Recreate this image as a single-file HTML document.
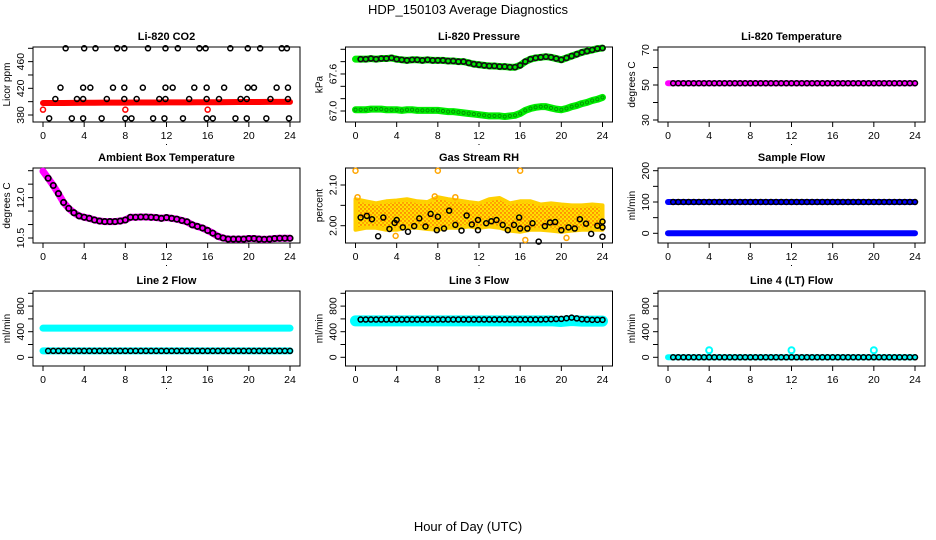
<!DOCTYPE html>
<html><head><meta charset="utf-8"><style>
body{margin:0;background:#fff;}
svg{display:block;font-family:"Liberation Sans",sans-serif;}
</style></head><body>
<svg id="chart" width="936" height="540" viewBox="0 0 936 540" xmlns="http://www.w3.org/2000/svg">
<defs>
<pattern id="rhpat" width="4" height="4" patternUnits="userSpaceOnUse">
<rect width="4" height="4" fill="#ffe000"/><circle cx="1" cy="1" r="0.7" fill="#ff2a00"/><circle cx="3" cy="3" r="0.7" fill="#ff5000"/>
</pattern>
</defs>
<text x="468" y="14" text-anchor="middle" font-size="13">HDP_150103  Average Diagnostics</text>
<text x="468" y="531" text-anchor="middle" font-size="13">Hour of Day (UTC)</text>
</svg>
<script>
// ---------- data ----------
const HALF = [0,0.5,1,1.5,2,2.5,3,3.5,4,4.5,5,5.5,6,6.5,7,7.5,8,8.5,9,9.5,10,10.5,11,11.5,12,12.5,13,13.5,14,14.5,15,15.5,16,16.5,17,17.5,18,18.5,19,19.5,20,20.5,21,21.5,22,22.5,23,23.5,24];
const HOURLY = [0,1,2,3,4,5,6,7,8,9,10,11,12,13,14,15,16,17,18,19,20,21,22,23,24];
const XTICKS = [0,4,8,12,16,20,24];

// CO2
const co2Red = [398,398,398,398.2,398.3,398.4,398.5,398.6,398.6,398.7,398.8,398.8,398.9,399,399,399.1,399.2,399.2,399.3,399.4,399.4,399.5,399.6,399.6,399.7];
const co2RedOutHours = [0,8,16];
const co2RedOutVals = [388,388,388];
const co2H480 = [2.2,4.0,5.1,7.2,7.9,10.2,11.9,13.1,15.2,15.8,18.2,19.9,21.1,23.2,23.7];
const co2H421 = [1.7,3.9,4.6,6.8,7.9,9.7,11.9,12.6,14.7,15.9,17.6,19.9,20.5,22.7,23.8];
const co2H404 = [1.2,3.3,3.9,6.2,7.9,9.1,11.3,11.9,14.2,15.9,17.1,19.2,19.8,22.1,23.8];
const co2H375 = [0.6,2.8,3.9,5.7,8.0,8.6,10.7,11.8,13.6,15.9,16.5,18.7,19.8,21.7,23.9];

// Pressure
const presTop = [67.84,67.84,67.84,67.85,67.84,67.85,67.85,67.86,67.84,67.83,67.82,67.83,67.83,67.82,67.83,67.82,67.82,67.82,67.81,67.81,67.80,67.80,67.78,67.76,67.75,67.74,67.73,67.73,67.72,67.72,67.71,67.71,67.74,67.80,67.84,67.86,67.87,67.88,67.87,67.85,67.83,67.86,67.89,67.92,67.95,67.97,67.99,68.01,68.02];
const presLow = [67.02,67.02,67.02,67.03,67.03,67.03,67.02,67.02,67.02,67.01,67.02,67.02,67.01,67.01,67.01,67.01,67.01,67.00,66.99,66.99,66.98,66.97,66.96,66.95,66.94,66.93,66.92,66.92,66.92,66.91,66.92,66.93,66.96,67.01,67.04,67.06,67.07,67.07,67.05,67.03,67.02,67.04,67.07,67.09,67.12,67.14,67.17,67.19,67.22];

// Li-820 temperature
const tempLi = [51,51,51,51,51,51,51,51,51,51,51,51,51,51,51,51,51,51,51,51,51,51,51,51,51];

// Ambient
const ambient = [12.98,12.72,12.45,12.15,11.82,11.6,11.44,11.32,11.27,11.23,11.17,11.13,11.11,11.11,11.11,11.13,11.17,11.27,11.27,11.28,11.28,11.27,11.26,11.23,11.26,11.23,11.2,11.15,11.1,10.99,10.93,10.87,10.78,10.68,10.56,10.5,10.46,10.46,10.46,10.46,10.48,10.48,10.46,10.45,10.46,10.48,10.49,10.49,10.49];

// RH
const rhUpper = [2.065,2.06,2.055,2.06,2.062,2.065,2.06,2.058,2.07,2.065,2.062,2.058,2.055,2.065,2.068,2.055,2.06,2.06,2.052,2.055,2.052,2.05,2.05,2.052,2.05];
const rhLower = [1.99,1.995,1.995,1.99,1.99,1.995,1.995,1.992,1.99,1.995,1.995,1.998,1.995,1.998,1.995,1.988,1.985,1.99,1.99,1.988,1.985,1.988,1.99,1.99,1.99];
const rhOutHours = [0,8,16,0.2,7.7,9.7,16.5,20.5,3.9];
const rhOutVals = [2.135,2.135,2.135,2.07,2.072,2.07,1.965,1.97,1.975];
const rhBlackHours = [0.5,1.1,1.6,2.2,2.7,3.3,3.8,4.0,4.6,5.1,5.7,6.2,6.8,7.3,7.9,8.0,8.6,9.1,9.7,10.3,10.8,11.3,11.9,11.9,12.7,13.2,13.7,14.3,14.8,15.4,15.9,16.0,16.7,17.2,17.8,18.4,18.9,19.4,20.0,20.7,21.3,21.8,22.4,22.9,23.5,24,24,24];
const rhBlackVals = [2.02,2.024,2.016,1.974,2.02,1.992,2.007,2.014,1.996,1.985,1.999,2.018,1.998,2.029,1.989,2.022,1.993,2.037,2.002,1.988,2.025,2.003,2.014,1.989,2.006,2.011,2.014,2.002,1.989,2.002,2.02,1.993,1.993,2.006,1.961,1.999,2.008,2.009,1.989,1.996,1.993,2.016,2.005,1.98,2.0,1.973,2.01,1.996];

// Flows
const sampleHigh = [100,100,100,100,100,100,100,100,100,100,100,100,100,100,100,100,100,100,100,100,100,100,100,100,100];
const sampleZero = [0,0,0,0,0,0,0,0,0,0,0,0,0,0,0,0,0,0,0,0,0,0,0,0,0];
const line2High = [455,455,455,455,455,455,455,455,455,455,455,455,455,455,455,455,455,455,455,455,455,455,455,455,455];
const line2Low = [100,100,100,100,100,100,100,100,100,100,100,100,100,100,100,100,100,100,100,100,100,100,100,100,100];
const line3Cyan = [570,570,570,570,570,570,570,570,570,570,570,570,570,570,570,570,570,570,570,570,560,575,565,565,565];
const line3Black = [590,590,590,590,590,590,590,590,590,590,590,590,590,590,590,590,590,590,590,595,600,620,595,585,585];
const line4Vals = [0,0,0,0,0,0,0,0,0,0,0,0,0,0,0,0,0,0,0,0,0,0,0,0,0];
const line4SpikeHours = [4,12,20];
const line4SpikeVals = [110,110,110];

// ---------- drawing ----------
const svg = document.getElementById('chart');
const NS = 'http://www.w3.org/2000/svg';
function mk(tag, attrs, parent){const e=document.createElementNS(NS,tag);for(const k in attrs)e.setAttribute(k,attrs[k]);(parent||svg).appendChild(e);return e;}

const COLS = [33, 345.5, 658];
const ROWS = [47, 168, 291];
const W = 267, H = 75;

function makePanel(col,row,title,ylab,yref,yticks,ylabels,name){
  const x0=COLS[col], y0=ROWS[row];
  const g = mk('g',{});
  
  
  const xs = h => x0+10+h*(W-20)/24;
  const ys = v => yref[1]+(v-yref[0])*(yref[3]-yref[1])/(yref[2]-yref[0]);
  const t = mk('text',{x:x0+W/2,y:y0-7,'text-anchor':'middle','font-size':11,'font-weight':'bold'},g);
  t.textContent = title;
  
  
  const yl = mk('text',{x:0,y:0,'text-anchor':'middle','font-size':10,transform:`translate(${x0-23},${y0+H/2}) rotate(-90)`},g);
  yl.textContent = ylab;
  
  
  const xa = mk('g',{},g);
  
  
  mk('line',{x1:xs(0),x2:xs(24),y1:y0+H,y2:y0+H,stroke:'#000'},xa);
  XTICKS.forEach(h=>{
    mk('line',{x1:xs(h),x2:xs(h),y1:y0+H,y2:y0+H+5,stroke:'#000'},xa);
    const tl = mk('text',{x:xs(h),y:y0+H+17,'text-anchor':'middle','font-size':10.5},xa);
    tl.textContent = h;
  });
  mk('rect',{x:x0+W/2-0.5,y:y0+H+22,width:1,height:1,fill:'#000'},xa);
  const ya = mk('g',{},g);
  
  
  mk('line',{x1:x0,x2:x0,y1:ys(yticks[0]),y2:ys(yticks[yticks.length-1]),stroke:'#000'},ya);
  yticks.forEach(v=>{
    mk('line',{x1:x0-5,x2:x0,y1:ys(v),y2:ys(v),stroke:'#000'},ya);
  });
  ylabels.forEach(s=>{
    const v = parseFloat(s);
    const tl = mk('text',{x:0,y:0,'text-anchor':'middle','font-size':10.5,transform:`translate(${x0-9},${ys(v)}) rotate(-90)`},ya);
    tl.textContent = s;
  });
  const box = mk('rect',{x:x0,y:y0,width:W,height:H,fill:'none',stroke:'#000'},g);
  
  
  const marks = mk('g',{},g);
  
  
  return {xs,ys,marks,g};
}
function band(p,hours,vals,color,width,name){
  const pts = hours.map((h,i)=>p.xs(h)+','+p.ys(vals[i])).join(' ');
  const l = mk('polyline',{points:pts,fill:'none',stroke:color,'stroke-width':width,'stroke-linejoin':'round','stroke-linecap':'round'},p.marks);
  
  
}
function circles(p,hours,vals,color,name,r,sw){
  r=r||2.5; sw=sw||1.5;
  const grp = mk('g',{},p.marks);
  
  
  hours.forEach((h,i)=>{
    mk('circle',{cx:p.xs(h),cy:p.ys(vals[i]),r:r,fill:'none',stroke:color,'stroke-width':sw},grp);
  });
}
function halfFromHourly(arr){return HALF.map(h=>{const a=Math.floor(h),b=Math.min(24,Math.ceil(h));return (arr[a]+arr[b])/2;});}

let p = makePanel(0,0,'Li-820 CO2','Licor ppm',[380,115,480,48.3],[380,400,420,440,460,480],['380','420','460'],'co2');
band(p,HOURLY,co2Red,'#ff0000',6,'co2-red-band');
circles(p,co2RedOutHours,co2RedOutVals,'#ff0000','co2-red-outliers');
circles(p,co2H480,co2H480.map(()=>480),'#000','co2-black-480');
circles(p,co2H421,co2H421.map(()=>421),'#000','co2-black-421');
circles(p,co2H404,co2H404.map(()=>404),'#000','co2-black-404');
circles(p,co2H375,co2H375.map(()=>375),'#000','co2-black-375');

p = makePanel(1,0,'Li-820 Pressure','kPa',[67.0,111,68.0,49.3],[67.0,67.2,67.4,67.6,67.8,68.0],['67.0','67.6'],'pressure');
band(p,HALF,presTop,'#00ee00',7,'pressure-green-upper');
band(p,HALF,presLow,'#00ee00',7,'pressure-green-lower');
circles(p,HALF.slice(1),presTop.slice(1),'#111','pressure-black-points',2.5,1.7);
circles(p,HALF,presLow,'#009900','pressure-lower-points',1.6,1);

p = makePanel(2,0,'Li-820 Temperature','degrees C',[30,120,70,50],[30,40,50,60,70],['30','50','70'],'li820-temp');
band(p,HOURLY,tempLi,'#ff00ff',6,'li820-temp-magenta');
circles(p,HALF.slice(1),halfFromHourly(tempLi).slice(1),'#000','li820-temp-black');

p = makePanel(0,1,'Ambient Box Temperature','degrees C',[10.5,238,13.0,170.7],[10.5,11,11.5,12,12.5,13],['10.5','12.0'],'ambient');
band(p,HALF,ambient,'#ff00ff',7,'ambient-magenta');
circles(p,HALF.slice(1),ambient.slice(1),'#000','ambient-black',2.7,1.7);

p = makePanel(1,1,'Gas Stream RH','percent',[2.0,225.7,2.1,185],[2.0,2.05,2.1],['2.00','2.10'],'rh');
{
  const up = HOURLY.map((h,i)=>p.xs(h)+','+p.ys(rhUpper[i]));
  const lo = HOURLY.map((h,i)=>p.xs(h)+','+p.ys(rhLower[i])).reverse();
  const poly = mk('polygon',{points:up.concat(lo).join(' '),fill:'url(#rhpat)',stroke:'#ffd000','stroke-width':4,'stroke-linejoin':'round'},p.marks);
  
  
}
circles(p,rhOutHours,rhOutVals,'#ffa500','rh-orange-outliers',2.5,1.5);
circles(p,rhBlackHours,rhBlackVals,'#000','rh-black-points',2.5,1.5);

p = makePanel(2,1,'Sample Flow','ml/min',[0,233.3,200,170.7],[0,50,100,150,200],['0','100','200'],'sample-flow');
band(p,HOURLY,sampleHigh,'#0000ff',6,'sample-flow-blue-high');
band(p,HOURLY,sampleZero,'#0000ff',6,'sample-flow-blue-zero');
circles(p,HALF.slice(1),halfFromHourly(sampleHigh).slice(1),'#000','sample-flow-black');

p = makePanel(0,2,'Line 2 Flow','ml/min',[0,357.3,1000,293.3],[0,200,400,600,800,1000],['0','400','800'],'line2-flow');
band(p,HOURLY,line2High,'#00ffff',7,'line2-cyan-high');
band(p,HOURLY,line2Low,'#00ffff',7,'line2-cyan-low');
circles(p,HALF.slice(1),halfFromHourly(line2Low).slice(1),'#000','line2-black');

p = makePanel(1,2,'Line 3 Flow','ml/min',[0,357.3,1000,293.3],[0,200,400,600,800,1000],['0','400','800'],'line3-flow');
band(p,HOURLY,line3Cyan,'#00ffff',11,'line3-cyan');
circles(p,HALF.slice(1),halfFromHourly(line3Black).slice(1),'#000','line3-black');

p = makePanel(2,2,'Line 4 (LT) Flow','ml/min',[0,357.3,1000,293.3],[0,200,400,600,800,1000],['0','400','800'],'line4-flow');
band(p,HOURLY,line4Vals,'#00ffff',6,'line4-cyan');
circles(p,line4SpikeHours,line4SpikeVals,'#00ffff','line4-cyan-spikes',3,2);
circles(p,HALF.slice(1),halfFromHourly(line4Vals).slice(1),'#000','line4-black');
</script>
</body></html>
